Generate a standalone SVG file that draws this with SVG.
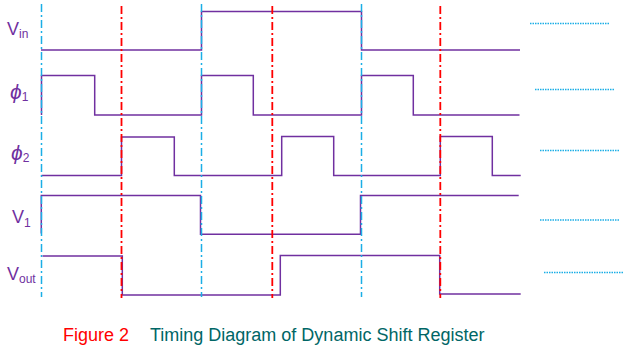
<svg xmlns="http://www.w3.org/2000/svg" width="629" height="356" viewBox="0 0 629 356">
<style>
.sig{fill:none;stroke:#7030A0;stroke-width:1.5}
.blue{stroke:#1BAEE6;stroke-width:1.5;stroke-dasharray:8 3 2 3}
.red{stroke:#FF0000;stroke-width:1.8;stroke-dasharray:8 3 2 3}
.dot{stroke:#1BAEE6;stroke-width:1.3;stroke-dasharray:1.5 1}
.lbl{font-family:"Liberation Sans","DejaVu Sans",Arial,sans-serif;fill:#7030A0;font-size:18px}
.sub{font-size:12px}
.phi{font-style:italic;font-size:21px}
.cap{font-family:"Liberation Sans",Arial,sans-serif;font-size:18px}
</style>
<rect width="629" height="356" fill="#fff"/>
<g id="signals">
<g id="vin"><polyline class="sig" points="41,50 201.5,50 201.5,11.5 361.5,11.5 361.5,50 520,50"/>
<text class="lbl" x="7" y="35">V<tspan class="sub" dy="2.5">in</tspan></text></g>
<g id="phi1"><polyline class="sig" points="41.5,115 41.5,75.5 94.7,75.5 94.7,115 201.5,115 201.5,75.5 253.3,75.5 253.3,115 361.5,115 361.5,75.5 413.3,75.5 413.3,115 519.5,115"/>
<text class="lbl" x="10" y="99"><tspan class="phi">ϕ</tspan><tspan class="sub" dy="2">1</tspan></text></g>
<g id="phi2"><polyline class="sig" points="41.5,175.5 121.5,175.5 121.5,137 174.3,137 174.3,175.5 281.7,175.5 281.7,136.5 333.7,136.5 333.7,175.5 440.3,175.5 440.3,136.5 492.3,136.5 492.3,175.5 520.7,175.5"/>
<text class="lbl" x="11" y="160"><tspan class="phi">ϕ</tspan><tspan class="sub" dy="2">2</tspan></text></g>
<g id="v1"><polyline class="sig" points="41.3,233.5 41.3,195.5 200.5,195.5 200.5,234.3 360.5,234.3 360.5,195.5 518.7,195.5"/>
<text class="lbl" x="12" y="223">V<tspan class="sub" dy="4">1</tspan></text></g>
<g id="vout"><polyline class="sig" points="42.5,256 122.3,256 122.3,295 280.3,295 280.3,255.5 439.7,255.5 439.7,294 520.7,294"/>
<text class="lbl" x="7" y="280">V<tspan class="sub" dy="2.7">out</tspan></text></g>
</g>
<g id="connectors">
<line class="blue" x1="41.5" y1="4" x2="41.5" y2="297"/>
<line class="blue" x1="201.5" y1="4" x2="201.5" y2="297"/>
<line class="blue" x1="361.5" y1="4" x2="361.5" y2="297"/>
<line class="red" x1="121.5" y1="6" x2="121.5" y2="298"/>
<line class="red" x1="272.3" y1="6" x2="272.3" y2="298"/>
<line class="red" x1="440.3" y1="6" x2="440.3" y2="298"/>
<line class="dot" x1="530" y1="23.5" x2="610" y2="23.5"/>
<line class="dot" x1="535" y1="89.5" x2="615" y2="89.5"/>
<line class="dot" x1="540" y1="150.5" x2="620" y2="150.5"/>
<line class="dot" x1="540" y1="220" x2="620" y2="220"/>
<line class="dot" x1="544" y1="272.5" x2="624" y2="272.5"/>
</g>
<g id="caption">
<text class="cap" x="63" y="341" fill="#FF0000">Figure 2</text>
<text class="cap" x="150" y="341" fill="#006666">Timing Diagram of Dynamic Shift Register</text>
</g>
</svg>
